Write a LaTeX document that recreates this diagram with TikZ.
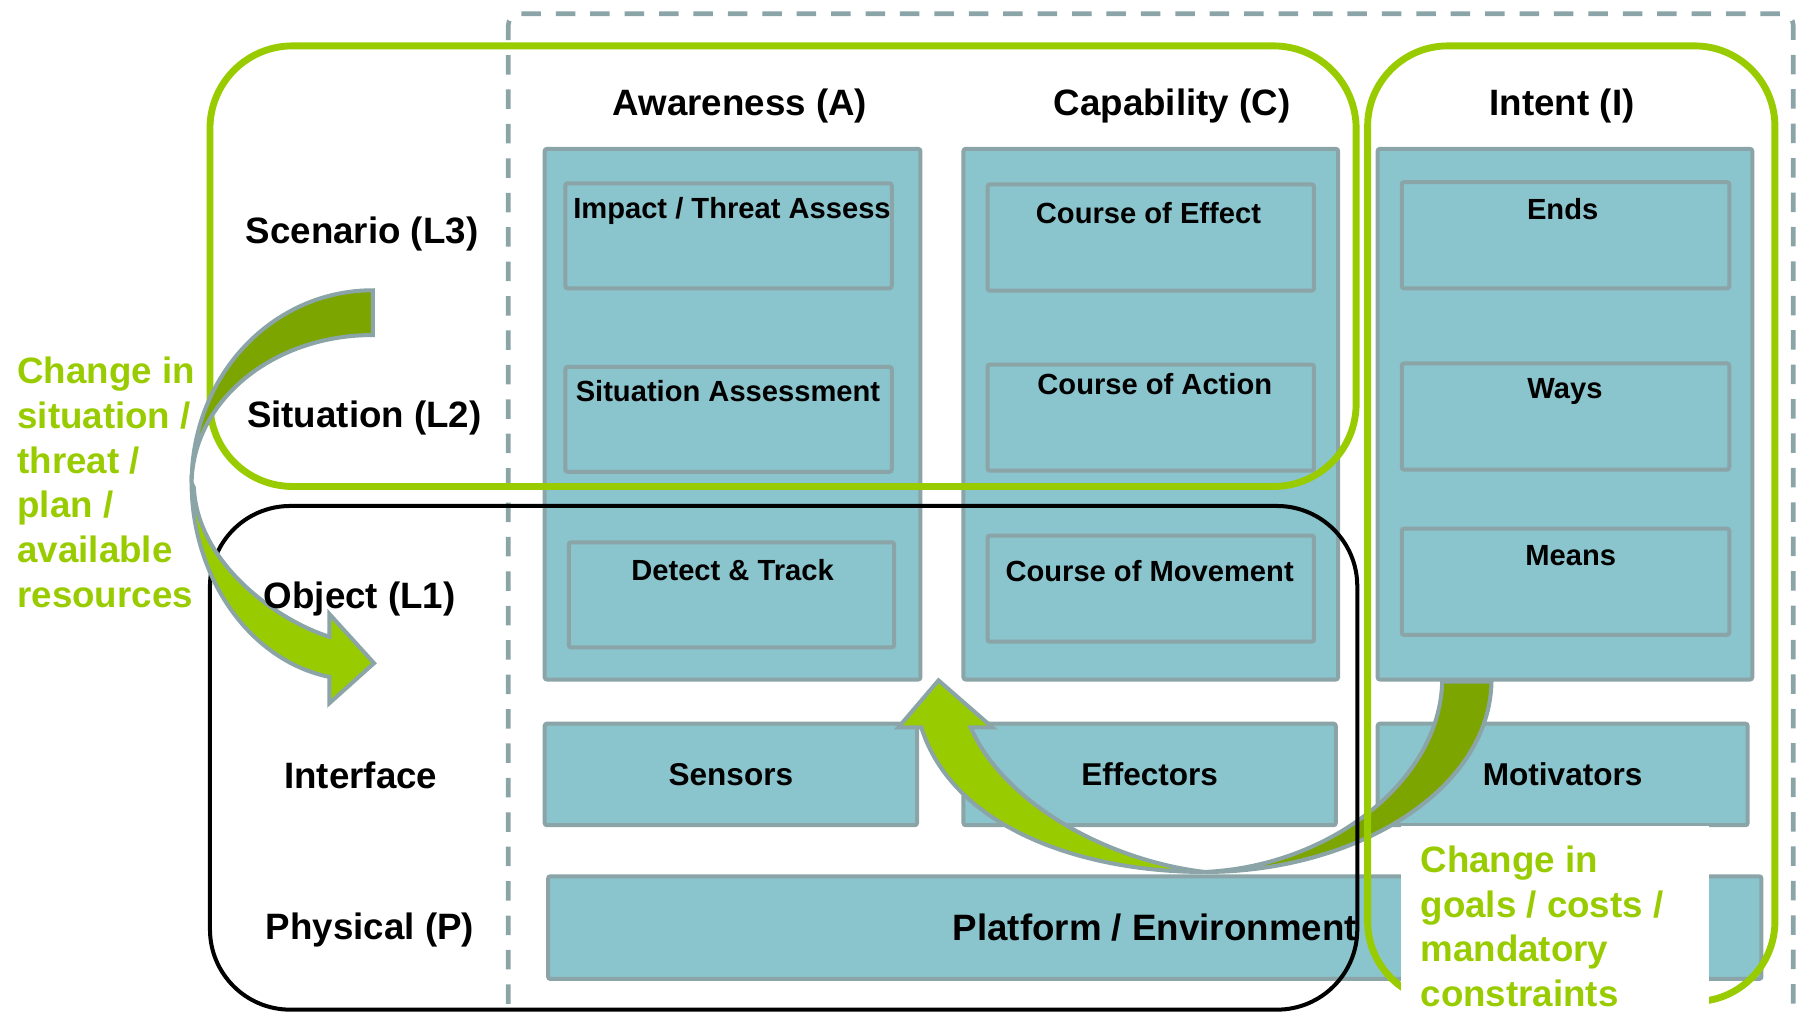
\documentclass[tikz,border=0pt]{standalone}
\usepackage{fontspec}
\setmainfont{Liberation Sans}
\definecolor{boxfill}{RGB}{138,196,204}
\definecolor{boxline}{RGB}{139,164,167}
\definecolor{lgreen}{RGB}{153,204,0}
\definecolor{dgreen}{RGB}{124,165,0}
\begin{document}
\begin{tikzpicture}[x=1pt,y=-1pt,
  colbox/.style={draw=boxline,fill=boxfill,line width=3.5pt,rounded corners=2pt,inner sep=0pt},
  bigtxt/.style={font=\fontsize{32}{38}\selectfont\bfseries,inner sep=0pt},
  smalltxt/.style={font=\fontsize{25.4}{30}\selectfont\bfseries,inner sep=0pt},
  midtxt/.style={font=\fontsize{27.5}{33}\selectfont\bfseries},
  gtxt/.style={font=\fontsize{32}{39}\selectfont\bfseries,text=lgreen,align=left,inner sep=0pt},
  gframe/.style={draw=lgreen,line width=6pt},
  bframe/.style={draw=black,line width=3.5pt},
  dashframe/.style={draw=boxline,line width=4pt,dash pattern=on 17pt off 13pt},
  arrowdark/.style={fill=dgreen,draw=boxline,line width=3.5pt},
  arrowlight/.style={fill=lgreen,draw=boxline,line width=3.5pt}]
\useasboundingbox (0,0) rectangle (1568,883);

% outer dashed boundary
\draw[dashframe,rounded corners=10pt] (443,905) |- (1563,12) -- (1563,905);

% column blocks
\node[colbox,minimum width=327.5,minimum height=462.5] (colA) at (638.5,361) {};
\node[colbox,minimum width=326.5,minimum height=462.5] (colC) at (1003,361) {};
\node[colbox,minimum width=326.5,minimum height=462.5] (colI) at (1364,361) {};

% inner level boxes
\node[colbox,minimum width=284.5,minimum height=91.5] (imp) at (635,205.5) {};
\node[colbox,minimum width=284.5,minimum height=91.5] (sit) at (635,365.5) {};
\node[colbox,minimum width=283.5,minimum height=91.5] (det) at (637.5,518.5) {};
\node[colbox,minimum width=284.5,minimum height=92.5] (coe) at (1003,207) {};
\node[colbox,minimum width=284.5,minimum height=92.5] (coa) at (1003,364) {};
\node[colbox,minimum width=284.5,minimum height=92.5] (com) at (1003,513) {};
\node[colbox,minimum width=285.5,minimum height=92.5] (ends) at (1364.5,205) {};
\node[colbox,minimum width=285.5,minimum height=92.5] (ways) at (1364.5,363) {};
\node[colbox,minimum width=285.5,minimum height=92.5] (means) at (1364.5,507) {};

\node[smalltxt] (timp) at (638,184) {Impact / Threat Assess};
\node[smalltxt] (tsit) at (634.5,341) {Situation Assessment};
\node[smalltxt] (tdet) at (638.5,497) {Detect \& Track};
\node[smalltxt] (tcoe) at (1001,186) {Course of Effect};
\node[smalltxt] (tcoa) at (1006.5,335) {Course of Action};
\node[smalltxt] (tcom) at (1002,498) {Course of Movement};
\node[smalltxt] (tends) at (1362,182) {Ends};
\node[smalltxt] (tways) at (1364,341) {Ways};
\node[smalltxt] (tmeans) at (1369,484) {Means};

% interface and physical rows
\node[colbox,midtxt,minimum width=324.5,minimum height=88.5] (sens) at (637,675) {Sensors};
\node[colbox,midtxt,minimum width=324.5,minimum height=88.5] (eff) at (1002,675) {Effectors};
\node[colbox,midtxt,minimum width=322.5,minimum height=88.5] (mot) at (1362,675) {Motivators};
\node[colbox,bigtxt,minimum width=1057.5,minimum height=89.5] (plat) at (1006.5,808.5) {Platform / Environment};

% curved arrow from intent back up to awareness
\draw[arrowlight] (783,634) -- (818,593) -- (865,634) -- (846,634)
  .. controls (875,700) and (965,750) .. (1050,760)
  .. controls (940,760) and (830,720) .. (803,634) -- cycle;
\draw[arrowdark] (1050,760) .. controls (1180,760) and (1298,690) .. (1300,594)
  -- (1257,594) .. controls (1255,680) and (1160,755) .. (1050,760) -- cycle;

% grouping frames
\draw[gframe,rounded corners=72pt] (183,40) rectangle (1182,424);
\draw[gframe,rounded corners=70pt] (1192,40) rectangle (1547,873);
\draw[bframe,rounded corners=70pt] (183,441) rectangle (1183,880);

% curved arrow from scenario level down to object level
\draw[arrowdark] (325,253) .. controls (237,253) and (167,328) .. (167,421)
  .. controls (168,350) and (237,292) .. (325,292) -- cycle;
\draw[arrowlight] (167,421) .. controls (167,500) and (215,575) .. (287,590)
  -- (287,613) -- (326,578) -- (287,535) -- (287,555)
  .. controls (240,540) and (172,490) .. (169,425) -- cycle;

% column headings
\node[bigtxt] (hA) at (645,92) {Awareness (A)};
\node[bigtxt] (hC) at (1021.5,92) {Capability (C)};
\node[bigtxt] (hI) at (1361.5,92) {Intent (I)};

% level labels
\node[bigtxt] (l3) at (315.5,204) {Scenario (L3)};
\node[bigtxt] (l2) at (317.5,364) {Situation (L2)};
\node[bigtxt] (l1) at (313.5,522) {Object (L1)};
\node[bigtxt] (li) at (314.5,676) {Interface};
\node[bigtxt] (lp) at (322.5,811) {Physical (P)};

% annotations
\node[gtxt,anchor=north west] (chg1) at (15,311)
  {Change in\\situation /\\threat /\\plan /\\available\\resources};
\node[fill=white,inner sep=0pt,minimum width=268,minimum height=180,anchor=north west] (wbox) at (1221,720) {};
\node[gtxt,anchor=north west] (chg2) at (1238,737)
  {Change in\\goals / costs /\\mandatory\\constraints};
\end{tikzpicture}
\end{document}
